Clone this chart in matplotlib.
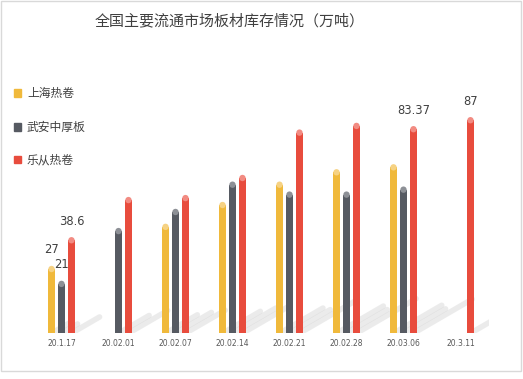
import numpy as np
import matplotlib.pyplot as plt
from matplotlib.patches import Rectangle

plt.rcParams['font.family'] = ['Noto Sans CJK SC', 'DejaVu Sans']

dates = ["20.1.17", "20.02.01", "20.02.07", "20.02.14", "20.02.21", "20.02.28", "20.03.06", "20.3.11"]
shanghai = [27, np.nan, 44, 52.8, 61, 66, 68, np.nan]
wuan = [21, 42.3, 50, 61, 57, 57, 59, np.nan]
lecong = [38.6, 54.8, 55.6, 63.7, 82, 84.7, 83.37, 87]
series_names = ["上海热卷", "武安中厚板", "乐从热卷"]

# labels shown in the chart: (series index, date index)
shown_labels = [(0, 0), (1, 0), (2, 0), (2, 6), (2, 7)]

colors = ["#F0B93B", "#565A62", "#E84C3D"]
caps = ["#F6D283", "#8D9096", "#F28B82"]

fig = plt.figure(figsize=(5.23, 3.79), dpi=100)
fig.patches.append(Rectangle((1 / 523, 8 / 379), 520 / 523, 370 / 379, transform=fig.transFigure,
                             fill=False, edgecolor="#d9d9d9", linewidth=1))
ax = fig.add_axes([33 / 523, 46 / 379, 456 / 523, 248 / 379])
ax.set_xlim(-0.5, 7.5)
ax.set_ylim(0, 100)

x = np.arange(len(dates))
offsets = [-0.175, 0, 0.175]
width = 0.11
cap = 1.2
data = [shanghai, wuan, lecong]

for k, vals in enumerate(data):
    vals = np.array(vals, dtype=float)
    xs = x + offsets[k]
    ok = ~np.isnan(vals)
    # soft diagonal shadows behind each cylinder
    for xx, v in zip(xs[ok], vals[ok]):
        ax.plot([xx + 0.03, xx + 0.03 + 0.012 * v], [0.3, 0.3 + 0.16 * v], color="#cfcfcf",
                lw=4, alpha=0.4, solid_capstyle="round", zorder=1)
    ax.bar(xs[ok], vals[ok] - cap, width=width, color=colors[k], zorder=3)
    ax.scatter(xs[ok], vals[ok] - cap, s=21, color=caps[k], edgecolors="none", zorder=4)

for k, i in shown_labels:
    v = data[k][i]
    ax.annotate(f"{v:g}", (x[i] + offsets[k], v), xytext=(0, 7), textcoords="offset points",
                ha="center", va="bottom", fontsize=8.3, color="#404040", family="DejaVu Sans")

ax.set_xticks(x)
ax.set_xticklabels(dates, fontsize=5.5, color="#595959", family="DejaVu Sans")
ax.tick_params(axis="x", length=0, pad=4)
ax.set_yticks([])
for s in ax.spines.values():
    s.set_visible(False)

fig.text(230 / 523, 1 - 21 / 379, "全国主要流通市场板材库存情况（万吨）", ha="center", va="center",
         fontsize=10.8, color="#404040")

for k, (name, ypix) in enumerate(zip(series_names, [93, 127, 160])):
    fig.patches.append(Rectangle((14 / 523, 1 - (ypix + 3.5) / 379), 7 / 523, 7 / 379,
                                 transform=fig.transFigure, color=colors[k]))
    fig.text(27 / 523, 1 - ypix / 379, name, ha="left", va="center", fontsize=8.5, color="#404040")

fig.savefig("out.png", dpi=100)
